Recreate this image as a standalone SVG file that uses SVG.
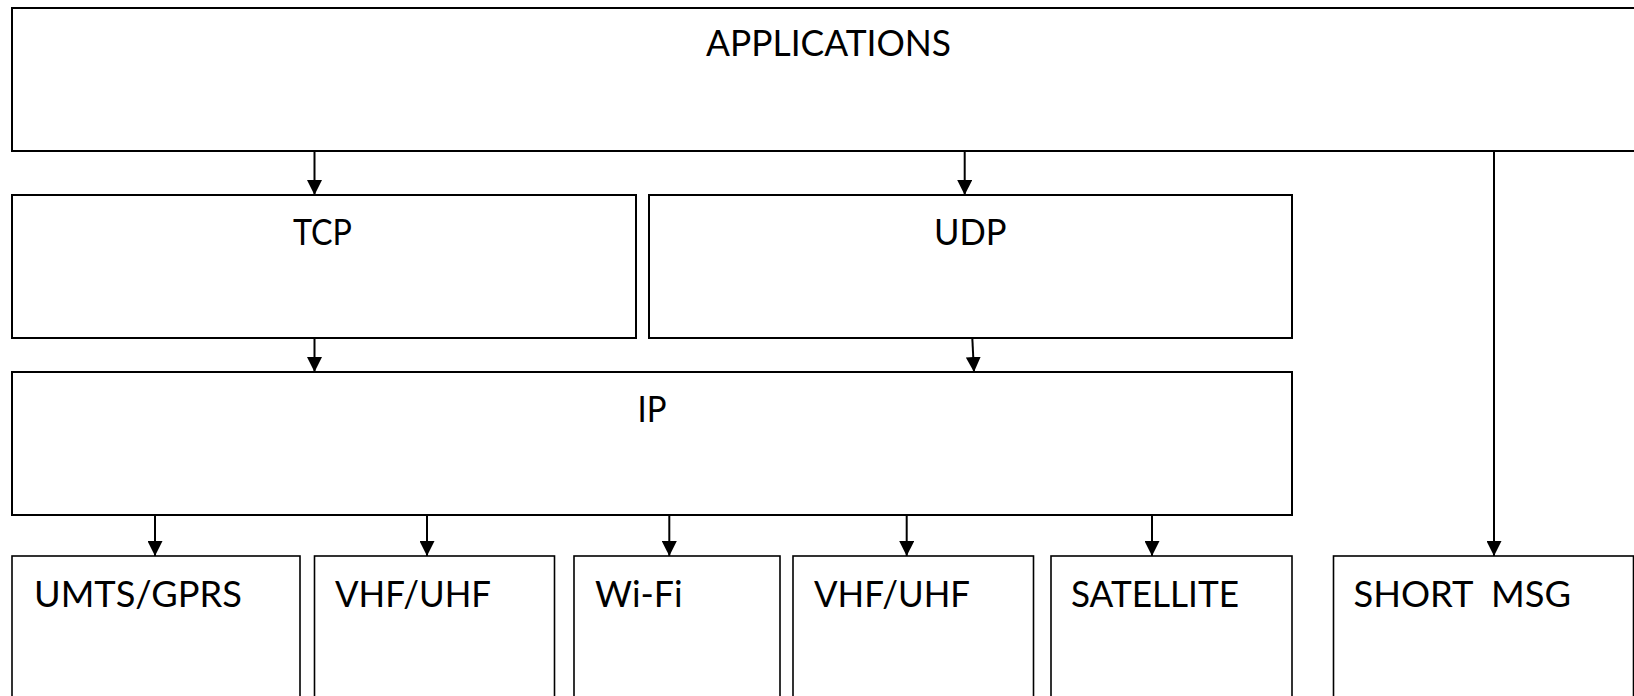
<svg xmlns="http://www.w3.org/2000/svg" width="1634" height="696" viewBox="0 0 1634 696">
  <style>
    .box { fill: #ffffff; stroke: #000000; stroke-width: 2; }
    .box2 { fill: #ffffff; stroke: #000000; stroke-width: 1.6; }
    .lbl { font-family: Lato, "Open Sans", "Liberation Sans", sans-serif; font-size: 36px; fill: #000000; }
    .conn { stroke: #000000; stroke-width: 2; fill: none; marker-end: url(#arrow); }
  </style>
  <defs>
    <marker id="arrow" markerUnits="userSpaceOnUse" markerWidth="16" markerHeight="15" refX="15" refY="7.5" orient="auto">
      <path d="M0,0 L15,7.5 L0,15 Z" fill="#000000"/>
    </marker>
  </defs>
  <rect x="0" y="0" width="1634" height="696" fill="#ffffff"/>

  <g id="applications">
    <rect class="box" x="12" y="8" width="1650" height="143"/>
    <text class="lbl" x="706" y="56" textLength="245" lengthAdjust="spacingAndGlyphs">APPLICATIONS</text>
  </g>
  <g id="tcp">
    <rect class="box" x="12" y="195" width="624" height="143"/>
    <text class="lbl" x="293" y="244.5" textLength="59" lengthAdjust="spacingAndGlyphs">TCP</text>
  </g>
  <g id="udp">
    <rect class="box" x="649" y="195" width="643" height="143"/>
    <text class="lbl" x="934" y="244.5" textLength="72.5" lengthAdjust="spacingAndGlyphs">UDP</text>
  </g>
  <g id="ip">
    <rect class="box" x="12" y="372" width="1280" height="143"/>
    <text class="lbl" x="637.5" y="421.5" textLength="29" lengthAdjust="spacingAndGlyphs">IP</text>
  </g>
  <g id="umts">
    <rect class="box2" x="12" y="556" width="288" height="160"/>
    <text class="lbl" x="34" y="606.5" textLength="208" lengthAdjust="spacingAndGlyphs">UMTS/GPRS</text>
  </g>
  <g id="vhf1">
    <rect class="box2" x="314.5" y="556" width="240" height="160"/>
    <text class="lbl" x="335" y="606.5" textLength="156" lengthAdjust="spacingAndGlyphs">VHF/UHF</text>
  </g>
  <g id="wifi">
    <rect class="box2" x="574" y="556" width="206" height="160"/>
    <text class="lbl" x="595" y="606.5" textLength="87.5" lengthAdjust="spacingAndGlyphs">Wi-Fi</text>
  </g>
  <g id="vhf2">
    <rect class="box2" x="793" y="556" width="240.5" height="160"/>
    <text class="lbl" x="814" y="606.5" textLength="156" lengthAdjust="spacingAndGlyphs">VHF/UHF</text>
  </g>
  <g id="satellite">
    <rect class="box2" x="1051" y="556" width="241" height="160"/>
    <text class="lbl" x="1071" y="606.5" textLength="168" lengthAdjust="spacingAndGlyphs">SATELLITE</text>
  </g>
  <g id="shortmsg">
    <rect class="box2" x="1333.5" y="556" width="300" height="160"/>
    <text class="lbl" x="1353.5" y="606.5" textLength="217.5" lengthAdjust="spacingAndGlyphs" xml:space="preserve">SHORT  MSG</text>
  </g>

  <g id="connectors">
    <line class="conn" x1="314.5" y1="151" x2="314.5" y2="195"/>
    <line class="conn" x1="964.7" y1="151" x2="964.7" y2="195"/>
    <line class="conn" x1="1494" y1="151" x2="1494" y2="556"/>
    <line class="conn" x1="314.5" y1="338" x2="314.5" y2="372"/>
    <line class="conn" x1="972.3" y1="338" x2="974" y2="372"/>
    <line class="conn" x1="155" y1="515" x2="155" y2="556"/>
    <line class="conn" x1="427" y1="515" x2="427" y2="556"/>
    <line class="conn" x1="669.3" y1="515" x2="669.3" y2="556"/>
    <line class="conn" x1="906.7" y1="515" x2="906.7" y2="556"/>
    <line class="conn" x1="1152" y1="515" x2="1152" y2="556"/>
  </g>
</svg>
